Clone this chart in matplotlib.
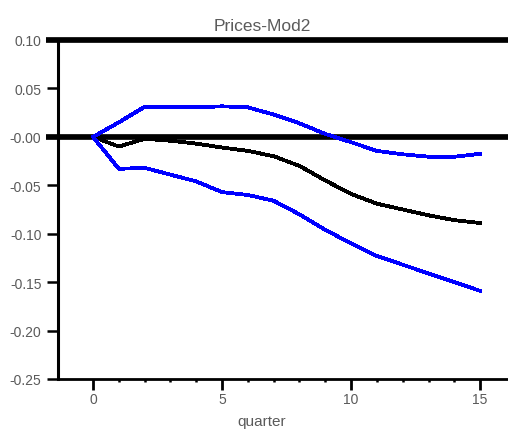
import matplotlib
matplotlib.use("Agg")
import matplotlib.pyplot as plt
from matplotlib.ticker import FixedLocator, FixedFormatter
from matplotlib.transforms import blended_transform_factory

# Impulse response of prices (model 2) with error bands
quarters = list(range(16))
response = [0.000, -0.010, -0.002, -0.004, -0.007, -0.011, -0.0145, -0.020,
            -0.030, -0.045, -0.059, -0.069, -0.075, -0.081, -0.086, -0.089]
upper = [0.000, 0.015, 0.031, 0.0305, 0.0305, 0.0315, 0.0305, 0.023,
         0.014, 0.003, -0.0055, -0.0145, -0.018, -0.0205, -0.0205, -0.0175]
lower = [0.000, -0.033, -0.032, -0.039, -0.046, -0.057, -0.060, -0.066,
         -0.080, -0.096, -0.110, -0.123, -0.132, -0.141, -0.150, -0.159]

y_ticks = [0.10, 0.05, 0.00, -0.05, -0.10, -0.15, -0.20, -0.25]
y_tick_labels = ["0.10", "0.05", "-0.00", "-0.05", "-0.10", "-0.15", "-0.20", "-0.25"]
x_ticks = [0, 5, 10, 15]
x_tick_labels = ["0", "5", "10", "15"]
title = "Prices-Mod2"
x_label = "quarter"

W, H = 508, 431
FONT = ["Liberation Sans", "DejaVu Sans"]
TXT = "#5a5a5a"

fig = plt.figure(figsize=(W / 100, H / 100), dpi=100)
left_px, right_px, top_px, bottom_px = 57.5, 508, 41, 380
ax = fig.add_axes([left_px / W, 1 - bottom_px / H,
                   (right_px - left_px) / W, (bottom_px - top_px) / H])

ax.set_xlim(-1.376, 16.08)
ax.set_ylim(-0.25, 0.10)

# heavy reference lines at 0.10 and 0.00, starting under the tick marks
tr = blended_transform_factory(ax.transAxes, ax.transData)
x0 = (46 - left_px) / (right_px - left_px)
for yv in (0.10, 0.0):
    ax.plot([x0, 1.0], [yv, yv], transform=tr, color="black", lw=4.1,
            solid_capstyle="butt", clip_on=False, zorder=2)

ax.plot(quarters, response, color="black", lw=2.0, antialiased=False, zorder=3)
ax.plot(quarters, upper, color="#0000ff", lw=2.0, antialiased=False, zorder=4)
ax.plot(quarters, lower, color="#0000ff", lw=2.0, antialiased=False, zorder=4)

for s in ("top", "right"):
    ax.spines[s].set_visible(False)
ax.spines["left"].set_linewidth(2.2)
ax.spines["bottom"].set_linewidth(2.0)

ax.yaxis.set_major_locator(FixedLocator(y_ticks))
ax.yaxis.set_major_formatter(FixedFormatter(y_tick_labels))
ax.xaxis.set_major_locator(FixedLocator(x_ticks))
ax.xaxis.set_major_formatter(FixedFormatter(x_tick_labels))
ax.xaxis.set_minor_locator(FixedLocator(quarters))

ax.tick_params(axis="y", direction="out", length=8, width=1.8, pad=3.6,
               labelsize=10, labelcolor=TXT)
ax.tick_params(axis="x", which="major", direction="out", length=8, width=2.0,
               pad=1.2, labelsize=10, labelcolor=TXT)
ax.tick_params(axis="x", which="minor", direction="out", length=2.5, width=1.8)
for lab in ax.get_xticklabels() + ax.get_yticklabels():
    lab.set_family(FONT)

fig.text(262.5 / W, 1 - 31 / H, title, ha="center", va="baseline",
         fontsize=12.5, color=TXT, family=FONT)
fig.text(261.5 / W, 1 - 426 / H, x_label, ha="center", va="baseline",
         fontsize=11, color=TXT, family=FONT)

fig.savefig("out.png", dpi=100)
